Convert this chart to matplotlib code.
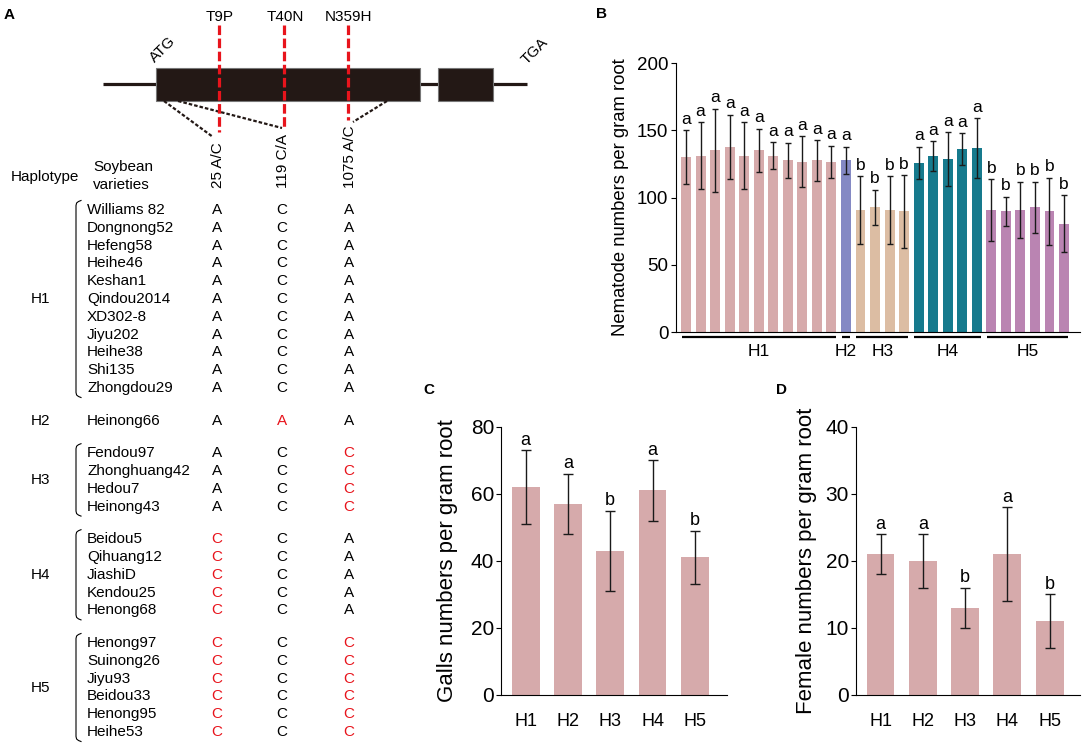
import matplotlib
matplotlib.use('Agg')
import matplotlib.pyplot as plt
import numpy as np
from matplotlib.patches import Rectangle

plt.rcParams['font.family'] = ['Liberation Sans', 'DejaVu Sans']

# ---------------- Data ----------------
# Panel A
haplotypes = ['H1', 'H2', 'H3', 'H4', 'H5']
varieties_h1 = ['Williams 82', 'Dongnong52', 'Hefeng58', 'Heihe46', 'Keshan1', 'Qindou2014',
                'XD302-8', 'Jiyu202', 'Heihe38', 'Shi135', 'Zhongdou29']
varieties_h2 = ['Heinong66']
varieties_h3 = ['Fendou97', 'Zhonghuang42', 'Hedou7', 'Heinong43']
varieties_h4 = ['Beidou5', 'Qihuang12', 'JiashiD', 'Kendou25', 'Henong68']
varieties_h5 = ['Henong97', 'Suinong26', 'Jiyu93', 'Beidou33', 'Henong95', 'Heihe53']
snp_labels = ['25 A/C', '119 C/A', '1075 A/C']
mutation_labels = ['T9P', 'T40N', 'N359H']
alleles_h1 = ['A', 'C', 'A']
alleles_h2 = ['A', 'A', 'A']
alleles_h3 = ['A', 'C', 'C']
alleles_h4 = ['C', 'C', 'A']
alleles_h5 = ['C', 'C', 'C']

# Panel B
b_groups = ['H1'] * 11 + ['H2'] + ['H3'] * 4 + ['H4'] * 5 + ['H5'] * 6
b_values = [130, 131, 135, 137.5, 131, 135, 131, 127.6, 126.6, 127.6, 126.6,
            127.6,
            90.7, 92.7, 90.7, 89.7,
            125.6, 131, 128.6, 135.8, 136.8,
            90.7, 89.7, 90.7, 92.7, 89.7, 80.5]
b_errors = [20, 25, 31, 24, 25, 16, 10, 13, 19, 15, 12,
            10,
            25, 13, 25, 27,
            12, 11, 20, 12, 22,
            23, 11, 21, 19, 25, 21]
b_letters = ['a'] * 11 + ['a'] + ['b'] * 4 + ['a'] * 5 + ['b'] * 6

# Panel C
c_labels = ['H1', 'H2', 'H3', 'H4', 'H5']
c_values = [62, 57, 43, 61, 41]
c_errors = [11, 9, 12, 9, 8]
c_letters = ['a', 'a', 'b', 'a', 'b']

# Panel D
d_labels = ['H1', 'H2', 'H3', 'H4', 'H5']
d_values = [21, 20, 13, 21, 11]
d_errors = [3, 4, 3, 7, 4]
d_letters = ['a', 'a', 'b', 'a', 'b']

# ---------------- Style ----------------
group_colors = {'H1': '#d6aaab', 'H2': '#8489c4', 'H3': '#dcbda3',
                'H4': '#167a8d', 'H5': '#ba84b2'}
RED = '#e8141c'
W, H = 1084, 744

fig = plt.figure(figsize=(W / 100, H / 100), dpi=100)

# ---------------- Panel A (pixel-space overlay) ----------------
axA = fig.add_axes([0, 0, 1, 1])
axA.set_xlim(0, W)
axA.set_ylim(H, 0)
axA.set_axis_off()

axA.text(4, 15, 'A', fontsize=11, fontweight='bold', va='center', ha='left')

# gene model
box_top, box_h = 67.5, 33.5
axA.plot([103, 527], [84, 84], color='#231815', lw=2.3, solid_capstyle='butt', zorder=1)
axA.add_patch(Rectangle((156, box_top), 264, box_h, facecolor='#231815',
                        edgecolor='#777777', lw=0.8, zorder=2))
axA.add_patch(Rectangle((437.5, box_top), 55, box_h, facecolor='#231815',
                        edgecolor='#777777', lw=0.8, zorder=2))
axA.text(163, 50, 'ATG', rotation=45, ha='center', va='center', fontsize=11)
axA.text(535, 51, 'TGA', rotation=45, ha='center', va='center', fontsize=11)

red_x = [219, 284, 348]
red_bottom = [132, 127, 120]
for xr, yb, lab in zip(red_x, red_bottom, mutation_labels):
    axA.plot([xr, xr], [25, yb], color=RED, lw=2.3, linestyle=(0, (3.0, 1.1)),
             solid_capstyle='butt', dash_capstyle='butt', zorder=4)
    axA.text(xr + 1, 17, lab, ha='center', va='center', fontsize=11)

# dotted connectors
for (x0, y0), (x1, y1) in [((164, 101), (213, 137)), ((178, 101), (282, 128)),
                           ((387, 101), (353, 122))]:
    axA.plot([x0, x1], [y0, y1], color='#231815', lw=1.6, linestyle=(0, (1.6, 0.9)),
             dash_capstyle='butt', zorder=3)

snp_x = [218, 283, 350]
for xs, lab in zip(snp_x, snp_labels):
    axA.text(xs, 188, lab, rotation=90, rotation_mode='anchor', ha='left',
             va='center', fontsize=11)

axA.text(11, 177, 'Haplotype', ha='left', va='center', fontsize=11)
axA.text(93, 167, 'Soybean', ha='left', va='center', fontsize=11)
axA.text(93, 185, 'varieties', ha='left', va='center', fontsize=11)

all_varieties = [varieties_h1, varieties_h2, varieties_h3, varieties_h4, varieties_h5]
all_alleles = [alleles_h1, alleles_h2, alleles_h3, alleles_h4, alleles_h5]
geno_x = [217, 282, 349]
row = 0
for g, (hap, vlist, alle) in enumerate(zip(haplotypes, all_varieties, all_alleles)):
    ys = []
    for name in vlist:
        y = 210 + 17.8 * row + 14.8 * g
        ys.append(y)
        axA.text(87, y, name, ha='left', va='center', fontsize=11)
        for xg, a, ref in zip(geno_x, alle, alleles_h1):
            axA.text(xg, y, a, ha='center', va='center', fontsize=11,
                     color=RED if a != ref else 'black')
        row += 1
    axA.text(31, (ys[0] + ys[-1]) / 2, hap, ha='left', va='center', fontsize=11)
    if len(ys) > 1:
        t, b = ys[0] - 7, ys[-1] + 7
        bx = [81, 78.5, 76.6, 76, 76, 76.6, 78.5, 81]
        by = [t - 2.5, t - 1.5, t, t + 2.5, b - 2.5, b, b + 1.5, b + 2.5]
        axA.plot(bx, by, color='black', lw=0.8)

# ---------------- Panel B ----------------
axB = fig.add_axes([676 / W, 1 - 332 / H, 404 / W, 269 / H])
xb = np.arange(len(b_values))
axB.bar(xb, b_values, width=0.68, color=[group_colors[g] for g in b_groups], zorder=1)
axB.errorbar(xb, b_values, yerr=b_errors, fmt='none', ecolor='#1a1a1a',
             elinewidth=1, capsize=2.2, capthick=1, zorder=2)
for xi, v, e, l in zip(xb, b_values, b_errors, b_letters):
    axB.annotate(l, (xi, v + e), xytext=(0, 2.5), textcoords='offset points',
                 ha='center', va='bottom', fontsize=12.5)
axB.set_ylim(0, 200)
axB.set_xlim(-0.69, 27.1)
axB.set_yticks([0, 50, 100, 150, 200])
axB.set_xticks([])
for s in ['top', 'right']:
    axB.spines[s].set_visible(False)
for s in ['left', 'bottom']:
    axB.spines[s].set_linewidth(0.8)
axB.tick_params(axis='y', labelsize=13.5, length=3.5, width=0.8, pad=2)
axB.set_ylabel('Nematode numbers per gram root', fontsize=13.3)
axB.yaxis.set_label_coords(-0.117, 0.5)
axB.patch.set_alpha(0)

# group underlines
trans = axB.get_xaxis_transform()
for hap in haplotypes:
    idx = [i for i, g in enumerate(b_groups) if g == hap]
    axB.plot([idx[0] - 0.3, idx[-1] + 0.3], [-0.019, -0.019], transform=trans,
             color='black', lw=1.6, clip_on=False, solid_capstyle='butt')
    axB.text((idx[0] + idx[-1]) / 2, -0.074, hap, transform=trans, ha='center',
             va='center', fontsize=12.5)

fig.text(596 / W, 1 - 14 / H, 'B', fontsize=11, fontweight='bold', va='center', ha='left')


# ---------------- Panels C, D ----------------
def small_panel(rect, labels, values, errors, letters, ylim, yticks, ylabel, xlim, lab_x):
    ax = fig.add_axes(rect)
    x = np.arange(len(values))
    ax.bar(x, values, width=0.66, color=group_colors['H1'], zorder=1)
    ax.errorbar(x, values, yerr=errors, fmt='none', ecolor='#1a1a1a',
                elinewidth=1, capsize=3.6, capthick=1, zorder=2)
    for xi, v, e, l in zip(x, values, errors, letters):
        ax.annotate(l, (xi, v + e), xytext=(0, 1), textcoords='offset points',
                    ha='center', va='bottom', fontsize=13)
    ax.set_ylim(*ylim)
    ax.set_xlim(*xlim)
    ax.set_yticks(yticks)
    ax.set_xticks(x)
    ax.set_xticklabels(labels)
    for s in ['top', 'right']:
        ax.spines[s].set_visible(False)
    for s in ['left', 'bottom']:
        ax.spines[s].set_linewidth(0.8)
    ax.tick_params(axis='y', labelsize=15, length=3.5, width=0.8, pad=1.5)
    ax.tick_params(axis='x', labelsize=13, length=0, pad=13)
    ax.set_ylabel(ylabel, fontsize=16)
    ax.yaxis.set_label_coords(lab_x, 0.5)
    ax.patch.set_alpha(0)
    return ax


small_panel([501 / W, 1 - 695 / H, 226 / W, 268.3 / H], c_labels, c_values, c_errors,
            c_letters, (0, 80), [0, 20, 40, 60, 80], 'Galls numbers per gram root',
            (-0.58, 4.76), -0.19)
small_panel([856 / W, 1 - 695 / H, 224 / W, 268.3 / H], d_labels, d_values, d_errors,
            d_letters, (0, 40), [0, 10, 20, 30, 40], 'Female numbers per gram root',
            (-0.58, 4.72), -0.174)

fig.text(423 / W, 1 - 390 / H, 'C', fontsize=11, fontweight='bold', va='center', ha='left')
fig.text(776 / W, 1 - 390 / H, 'D', fontsize=11, fontweight='bold', va='center', ha='left')

fig.savefig('out.png', dpi=100)
